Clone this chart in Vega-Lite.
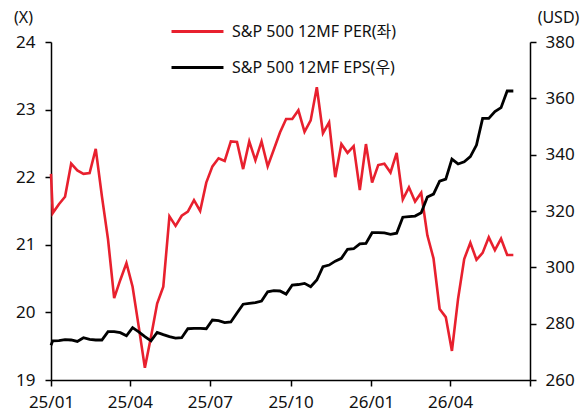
{
  "$schema": "https://vega.github.io/schema/vega-lite/v6.json",
  "width": 479,
  "height": 338,
  "autosize": {"type": "none"},
  "padding": {"left": 51, "top": 42, "right": 52, "bottom": 39},
  "background": "white",
  "config": {
    "view": {"stroke": null},
    "font": "Noto Sans, Noto Sans CJK KR",
    "axis": {
      "grid": false,
      "domainColor": "#000",
      "domainWidth": 1.5,
      "tickColor": "#000",
      "tickWidth": 1.5,
      "tickSize": 6,
      "labelColor": "#111",
      "labelFontSize": 17,
      "labelFont": "Noto Sans",
      "titleFont": "Noto Sans",
      "titleFontSize": 16,
      "titleFontWeight": "normal",
      "titleColor": "#111"
    },
    "legend": {
      "labelFont": "Noto Sans, Noto Sans CJK KR",
      "labelFontSize": 16,
      "labelColor": "#111",
      "labelLimit": 0
    }
  },
  "data": {
    "values": [
      {"d": "2025-01-01", "per": 22.05, "eps": 272.3},
      {"d": "2025-01-03", "per": 21.47, "eps": 273.9},
      {"d": "2025-01-10", "per": 21.60, "eps": 274.0},
      {"d": "2025-01-17", "per": 21.71, "eps": 274.3},
      {"d": "2025-01-24", "per": 22.20, "eps": 274.2},
      {"d": "2025-01-31", "per": 22.10, "eps": 273.7},
      {"d": "2025-02-07", "per": 22.05, "eps": 275.0},
      {"d": "2025-02-14", "per": 22.06, "eps": 274.4},
      {"d": "2025-02-21", "per": 22.42, "eps": 274.2},
      {"d": "2025-02-28", "per": 21.72, "eps": 274.2},
      {"d": "2025-03-07", "per": 21.08, "eps": 277.2},
      {"d": "2025-03-14", "per": 20.21, "eps": 277.2},
      {"d": "2025-03-21", "per": 20.48, "eps": 276.8},
      {"d": "2025-03-28", "per": 20.73, "eps": 275.7},
      {"d": "2025-04-04", "per": 20.38, "eps": 278.6},
      {"d": "2025-04-11", "per": 19.79, "eps": 277.1},
      {"d": "2025-04-18", "per": 19.18, "eps": 275.4},
      {"d": "2025-04-25", "per": 19.64, "eps": 273.9},
      {"d": "2025-05-02", "per": 20.13, "eps": 276.9},
      {"d": "2025-05-09", "per": 20.38, "eps": 276.1},
      {"d": "2025-05-16", "per": 21.42, "eps": 275.4},
      {"d": "2025-05-23", "per": 21.28, "eps": 274.9},
      {"d": "2025-05-30", "per": 21.43, "eps": 275.0},
      {"d": "2025-06-06", "per": 21.49, "eps": 278.2},
      {"d": "2025-06-13", "per": 21.66, "eps": 278.3},
      {"d": "2025-06-20", "per": 21.50, "eps": 278.3},
      {"d": "2025-06-27", "per": 21.92, "eps": 278.2},
      {"d": "2025-07-04", "per": 22.16, "eps": 281.3},
      {"d": "2025-07-11", "per": 22.28, "eps": 281.1},
      {"d": "2025-07-18", "per": 22.24, "eps": 280.4},
      {"d": "2025-07-25", "per": 22.53, "eps": 280.6},
      {"d": "2025-08-01", "per": 22.52, "eps": 283.8},
      {"d": "2025-08-08", "per": 22.12, "eps": 286.9},
      {"d": "2025-08-15", "per": 22.53, "eps": 287.2},
      {"d": "2025-08-22", "per": 22.25, "eps": 287.5},
      {"d": "2025-08-29", "per": 22.53, "eps": 288.0},
      {"d": "2025-09-05", "per": 22.16, "eps": 291.3},
      {"d": "2025-09-12", "per": 22.41, "eps": 291.7},
      {"d": "2025-09-19", "per": 22.66, "eps": 291.6},
      {"d": "2025-09-26", "per": 22.86, "eps": 290.5},
      {"d": "2025-10-03", "per": 22.86, "eps": 293.7},
      {"d": "2025-10-10", "per": 22.99, "eps": 293.9},
      {"d": "2025-10-17", "per": 22.67, "eps": 294.3},
      {"d": "2025-10-24", "per": 22.84, "eps": 293.1},
      {"d": "2025-10-31", "per": 23.33, "eps": 295.5},
      {"d": "2025-11-07", "per": 22.65, "eps": 300.2},
      {"d": "2025-11-14", "per": 22.81, "eps": 300.8},
      {"d": "2025-11-21", "per": 22.00, "eps": 302.2},
      {"d": "2025-11-28", "per": 22.49, "eps": 303.2},
      {"d": "2025-12-05", "per": 22.36, "eps": 306.4},
      {"d": "2025-12-12", "per": 22.46, "eps": 306.6},
      {"d": "2025-12-19", "per": 21.81, "eps": 308.3},
      {"d": "2025-12-26", "per": 22.49, "eps": 308.5},
      {"d": "2026-01-02", "per": 21.92, "eps": 312.3},
      {"d": "2026-01-09", "per": 22.18, "eps": 312.3},
      {"d": "2026-01-16", "per": 22.20, "eps": 312.2},
      {"d": "2026-01-23", "per": 22.07, "eps": 311.7},
      {"d": "2026-01-30", "per": 22.36, "eps": 312.1},
      {"d": "2026-02-06", "per": 21.67, "eps": 317.8},
      {"d": "2026-02-13", "per": 21.85, "eps": 318.0},
      {"d": "2026-02-20", "per": 21.64, "eps": 318.2},
      {"d": "2026-02-27", "per": 21.77, "eps": 319.4},
      {"d": "2026-03-06", "per": 21.14, "eps": 325.0},
      {"d": "2026-03-13", "per": 20.80, "eps": 326.0},
      {"d": "2026-03-20", "per": 20.05, "eps": 330.6},
      {"d": "2026-03-27", "per": 19.93, "eps": 331.3},
      {"d": "2026-04-03", "per": 19.43, "eps": 338.4},
      {"d": "2026-04-10", "per": 20.20, "eps": 336.7},
      {"d": "2026-04-17", "per": 20.79, "eps": 337.5},
      {"d": "2026-04-24", "per": 21.03, "eps": 339.3},
      {"d": "2026-05-01", "per": 20.78, "eps": 343.4},
      {"d": "2026-05-08", "per": 20.88, "eps": 352.9},
      {"d": "2026-05-15", "per": 21.11, "eps": 352.9},
      {"d": "2026-05-22", "per": 20.92, "eps": 355.3},
      {"d": "2026-05-29", "per": 21.09, "eps": 356.7},
      {"d": "2026-06-05", "per": 20.85, "eps": 362.6},
      {"d": "2026-06-12", "per": 20.85, "eps": 362.6}
    ]
  },
  "encoding": {
    "x": {
      "field": "d",
      "type": "temporal",
      "title": null,
      "scale": {"type": "utc", "domain": [{"year": 2025, "month": 1, "date": 1, "utc": true}, {"year": 2026, "month": 7, "date": 1, "utc": true}]},
      "axis": {
        "values": [
          {"year": 2025, "month": 1, "date": 1, "utc": true},
          {"year": 2025, "month": 4, "date": 1, "utc": true},
          {"year": 2025, "month": 7, "date": 1, "utc": true},
          {"year": 2025, "month": 10, "date": 1, "utc": true},
          {"year": 2026, "month": 1, "date": 1, "utc": true},
          {"year": 2026, "month": 4, "date": 1, "utc": true},
          {"year": 2026, "month": 7, "date": 1, "utc": true}
        ],
        "labelExpr": "(utcyear(datum.value) == 2026 && utcmonth(datum.value) == 6) ? '' : utcFormat(datum.value, '%y/%m')",
        "labelPadding": 8,
        "labelFlush": false,
        "labelOverlap": false
      }
    }
  },
  "layer": [
    {
      "mark": {"type": "line", "strokeWidth": 2.6},
      "encoding": {
        "y": {
          "field": "per",
          "type": "quantitative",
          "scale": {"domain": [19, 24], "zero": false, "nice": false},
          "axis": {
            "orient": "left",
            "values": [19, 20, 21, 22, 23, 24],
            "labelPadding": 10,
            "title": "(X)",
            "titleAngle": 0,
            "titleX": -28,
            "titleY": -25,
            "titleAlign": "center",
            "titleBaseline": "middle"
          }
        },
        "color": {
          "datum": "S&P 500 12MF PER(좌)",
          "type": "nominal",
          "scale": {
            "domain": ["S&P 500 12MF PER(좌)", "S&P 500 12MF EPS(우)"],
            "range": ["#e8202e", "#000000"]
          },
          "legend": {
            "title": null,
            "orient": "none",
            "legendX": 119,
            "legendY": -38,
            "symbolType": "stroke",
            "symbolSize": 2700,
            "symbolStrokeWidth": 3,
            "labelOffset": 7,
            "rowPadding": -14,
            "padding": 0
          }
        }
      }
    },
    {
      "mark": {"type": "line", "strokeWidth": 2.8},
      "encoding": {
        "y": {
          "field": "eps",
          "type": "quantitative",
          "scale": {"domain": [260, 380], "zero": false, "nice": false},
          "axis": {
            "orient": "right",
            "values": [260, 280, 300, 320, 340, 360, 380],
            "labelPadding": 9,
            "title": "(USD)",
            "titleAngle": 0,
            "titleX": 28,
            "titleY": -25,
            "titleAlign": "center",
            "titleBaseline": "middle"
          }
        },
        "color": {"datum": "S&P 500 12MF EPS(우)", "type": "nominal"}
      }
    }
  ],
  "resolve": {"scale": {"y": "independent"}}
}
